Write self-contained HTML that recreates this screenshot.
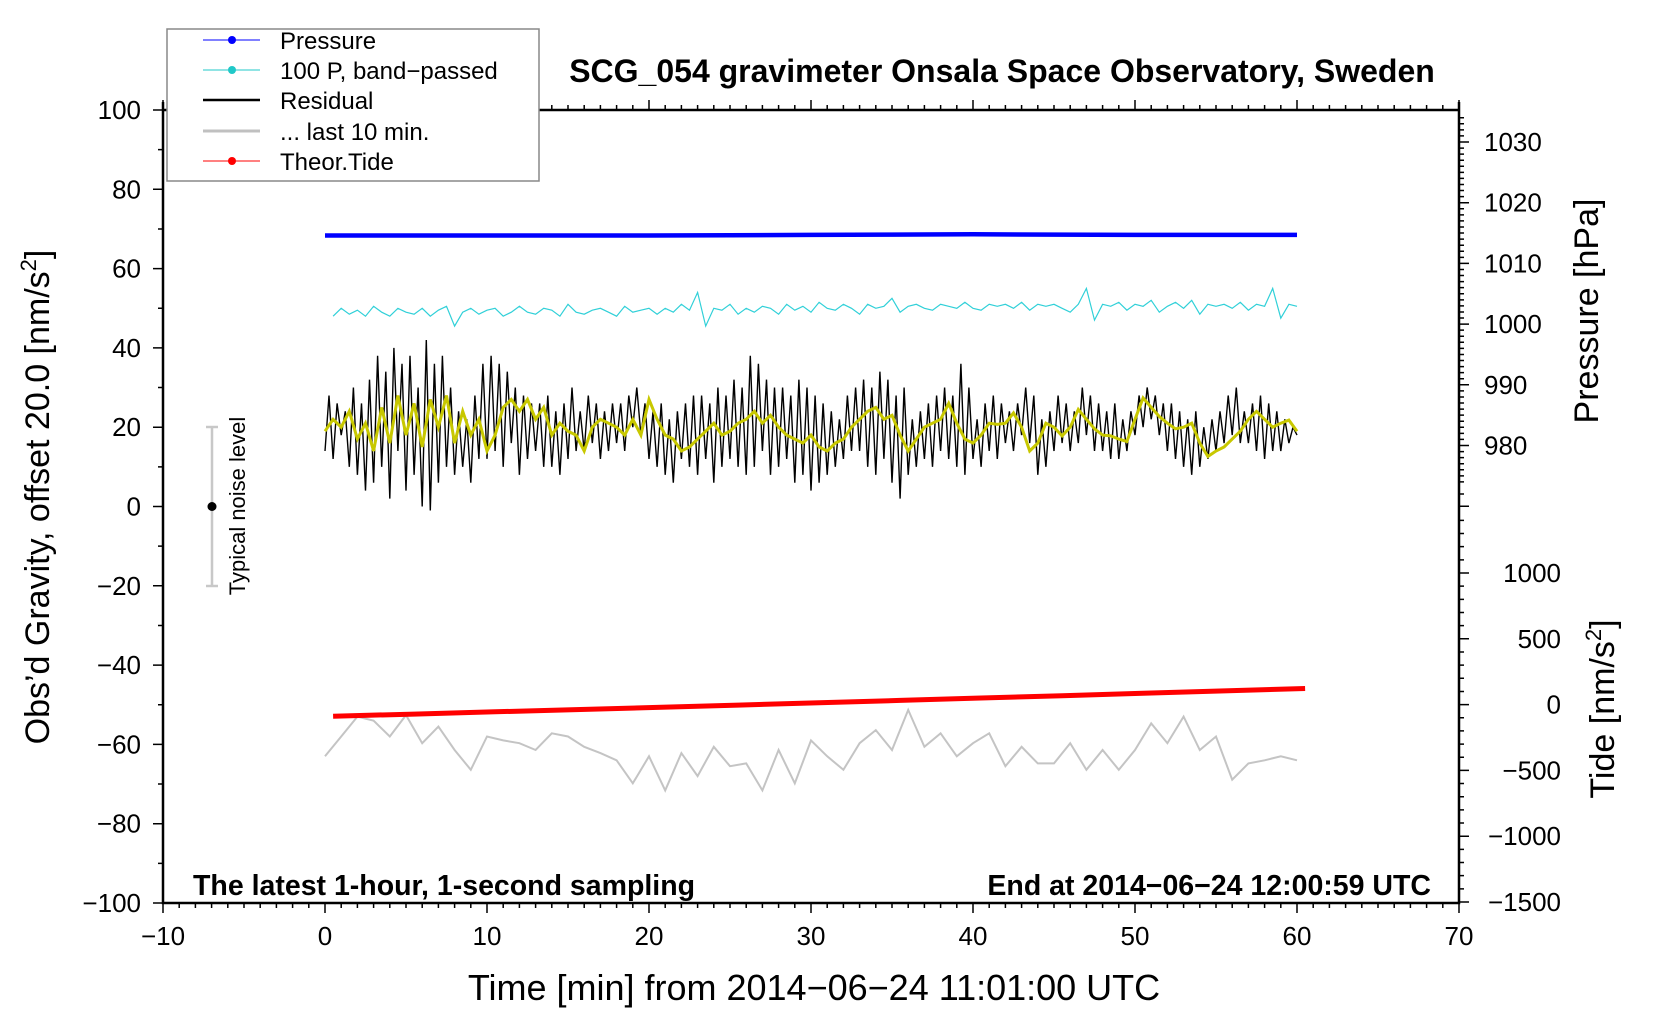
<!DOCTYPE html>
<html><head><meta charset="utf-8"><style>
html,body{margin:0;padding:0;background:#fff}
svg{display:block;font-family:"Liberation Sans",Arial,sans-serif}
</style></head><body>
<svg id="chart" width="1660" height="1020" viewBox="0 0 1660 1020" xmlns="http://www.w3.org/2000/svg">
<rect width="1660" height="1020" fill="#fff"/>
<g id="marks"></g>
<g id="axes"></g>
<text x="1002" y="82" text-anchor="middle" font-size="32" font-weight="bold">SCG_054 gravimeter Onsala Space Observatory, Sweden</text>
<text x="193" y="895" font-size="28.5" font-weight="bold">The latest 1-hour, 1-second sampling</text>
<text x="1431" y="895" text-anchor="end" font-size="28.5" font-weight="bold">End at 2014−06−24 12:00:59 UTC</text>
<text x="814" y="1000" text-anchor="middle" font-size="36">Time [min] from 2014−06−24 11:01:00 UTC</text>
<text transform="translate(49,497) rotate(-90)" text-anchor="middle" font-size="34">Obs’d Gravity, offset 20.0 [nm/s<tspan font-size="22" dy="-13">2</tspan><tspan dy="13">]</tspan></text>
<text transform="translate(1598,311) rotate(-90)" text-anchor="middle" font-size="34">Pressure [hPa]</text>
<text transform="translate(1614,709) rotate(-90)" text-anchor="middle" font-size="34">Tide [nm/s<tspan font-size="22" dy="-13">2</tspan><tspan dy="13">]</tspan></text>
<g>
<line x1="212" y1="427" x2="212" y2="586" stroke="#c8c8c8" stroke-width="2.5"/>
<line x1="206" y1="427" x2="218" y2="427" stroke="#c8c8c8" stroke-width="2.5"/>
<line x1="206" y1="586" x2="218" y2="586" stroke="#c8c8c8" stroke-width="2.5"/>
<circle cx="212" cy="506.5" r="4.5" fill="#000"/>
<text transform="translate(245,506) rotate(-90)" text-anchor="middle" font-size="22">Typical noise level</text>
</g>
<g>
<rect x="167" y="29" width="372" height="152" fill="#fff" stroke="#888" stroke-width="1.5"/>
<g><line x1="203" y1="40" x2="260" y2="40" stroke="#0000ff" stroke-width="1"/><circle cx="232" cy="40" r="4" fill="#0000ff"/><text x="280" y="49" font-size="24">Pressure</text></g>
<g><line x1="203" y1="70" x2="260" y2="70" stroke="#20c8c8" stroke-width="1"/><circle cx="232" cy="70" r="4" fill="#20c8c8"/><text x="280" y="79" font-size="24">100 P, band−passed</text></g>
<g><line x1="203" y1="100" x2="260" y2="100" stroke="#000" stroke-width="2.5"/><text x="280" y="109" font-size="24">Residual</text></g>
<g><line x1="203" y1="131" x2="260" y2="131" stroke="#c0c0c0" stroke-width="3"/><text x="280" y="140" font-size="24">... last 10 min.</text></g>
<g><line x1="203" y1="161" x2="260" y2="161" stroke="#ff0000" stroke-width="1"/><circle cx="232" cy="161" r="4" fill="#ff0000"/><text x="280" y="170" font-size="24">Theor.Tide</text></g>
</g>
</svg>
<script>
// ---- data ----
const xTicks = [-10,0,10,20,30,40,50,60,70];
const yTicks = [100,80,60,40,20,0,-20,-40,-60,-80,-100];
const pressureTicks = [1030,1020,1010,1000,990,980];
const tideTicks = [1000,500,0,-500,-1000,-1500];
// residual, 4 samples per minute, t = 0..60
const residual = [14,28,12,26,18,24,10,30,8,26,4,32,6,38,10,34,2,40,14,36,4,38,8,30,0,42,-1,36,6,38,10,30,8,24,10,22,6,28,12,36,12,38,14,36,10,34,16,30,8,28,12,26,14,26,10,28,10,24,8,26,12,30,14,24,14,28,16,26,12,24,14,26,16,26,14,28,20,30,18,26,12,24,10,26,8,22,6,24,12,26,10,28,8,28,12,26,6,30,10,28,12,32,10,30,8,38,10,36,14,32,8,30,10,30,12,28,6,32,8,30,4,28,6,26,8,24,10,22,12,28,14,30,14,32,10,30,8,34,12,32,6,28,2,30,8,22,10,24,12,26,10,28,14,30,12,28,10,36,8,30,12,22,10,26,14,28,12,26,16,24,14,26,18,30,16,28,8,22,10,24,14,28,16,26,14,24,16,30,18,28,14,26,14,24,12,26,12,22,14,24,18,28,20,30,22,28,18,26,14,26,12,24,10,22,8,24,10,20,12,22,14,24,16,28,18,30,16,24,16,26,14,28,12,26,14,24,14,22,16,20,18];
// smoothed residual, 2 samples per minute
const smoothed = [19,22,20,24,17,21,14,25,16,28,18,26,15,27,20,28,16,24,18,22,14,18,25,27,24,27,22,25,18,21,19,18,14,20,22,21,20,18,22,18,27,22,18,17,14,15,17,19,21,18,19,21,22,24,21,23,20,18,17,16,18,15,14,16,17,20,22,24,25,22,23,18,14,17,20,21,22,26,21,17,16,18,21,20.7,21,23.6,20,14,16,21,20,17.8,20,24.5,22,19.6,18,17.8,17,16.4,22,27.4,25,22.7,21,19.6,20,21,16,12.6,14,15,17,19,22,24,22,20,21,21.8,19];
// 100 P band-passed, 2 samples per minute, t = 0.5..60
const bandPassed = [48,50,48.5,49.5,48,50.5,49,48,50,49,48.5,50,48,49.5,50.5,45.5,49,50,48.5,49.5,50,48,49,50.5,49,48.5,50,49.5,48,51,49,48.5,49.5,50,49,48,50.5,49,49.5,50,48.5,50,49,51,49.5,54,45.5,50,49.5,51,48.5,50,49,50.5,50,48.5,51,49.5,50.5,49,51.5,50,49.5,51,50,48.5,51,50,50.5,52.5,49,50.5,51,50,49.5,51,50.5,50,51.5,50,49.5,51,50.5,51,50,51.5,49.5,51,50.5,51,50,49,51,55,47,51,50.5,51.5,49.5,51,50.5,52,49,50.5,51.5,50,52,48.5,51,50.5,51,50,51.5,49.5,51,50.5,55,47.5,51,50.5];
// last 10 min (gray), 1 sample per minute
const lastTen = [-63,-58,-53,-54,-58,-52.6,-59.7,-55.5,-61.4,-66.4,-58,-59,-59.7,-61.4,-57.2,-58,-60.6,-62.2,-64,-69.8,-63,-71.6,-62.2,-68,-60.6,-65.5,-64.8,-71.6,-61.4,-69.8,-59,-63,-66.4,-59.7,-56.4,-61.4,-51.3,-60.6,-57.2,-63,-59.7,-57.2,-65.5,-60.6,-64.8,-64.8,-59.7,-66.4,-61.4,-66.4,-61.4,-54.7,-59.7,-53,-61.4,-58,-68.9,-64.8,-64,-63,-64];
// pressure hPa, every 5 min
const pressure = [1014.6,1014.6,1014.6,1014.6,1014.6,1014.65,1014.7,1014.75,1014.8,1014.75,1014.7,1014.7,1014.7];
// theoretical tide nm/s², every 5 min, t = 0.5..60.5
const tide = [-88,-72,-55,-38,-21,-4,14,32,50,68,86,104,122];

// ---- axes functions ----
const X0=163,X1=1459,Y0=110,Y1=903;
const xs = t => X0 + (t+10)/80*(X1-X0);
const ys = v => Y1 - (v+100)/200*(Y1-Y0);
const ps = p => 142 + (1030-p)*6.07;
const ts = v => 573 + (1000-v)*(902-573)/2500;
const NS="http://www.w3.org/2000/svg";
const marks=document.getElementById('marks'), axes=document.getElementById('axes');
function mk(tag,attrs,parent){const e=document.createElementNS(NS,tag);for(const k in attrs)e.setAttribute(k,attrs[k]);parent.appendChild(e);return e;}
function poly(pts){return pts.map(p=>p[0].toFixed(1)+','+p[1].toFixed(1)).join(' ');}

// series
let el;
el=mk('polyline',{points:poly(lastTen.map((v,i)=>[xs(i),ys(v)])),fill:'none',stroke:'#c4c4c4','stroke-width':2},marks);


el=mk('polyline',{points:poly(tide.map((v,i)=>[xs(0.5+i*5),ts(v)])),fill:'none',stroke:'#ff0000','stroke-width':5},marks);


el=mk('polyline',{points:poly(bandPassed.map((v,i)=>[xs(0.5+i*0.5),ys(v)])),fill:'none',stroke:'#30d0d8','stroke-width':1.2},marks);


el=mk('polyline',{points:poly(pressure.map((v,i)=>[xs(i*5),ps(v)])),fill:'none',stroke:'#0000ff','stroke-width':4.5},marks);


el=mk('polyline',{points:poly(residual.map((v,i)=>[xs(i*0.25),ys(v)])),fill:'none',stroke:'#000','stroke-width':1.4},marks);


el=mk('polyline',{points:poly(smoothed.map((v,i)=>[xs(i*0.5),ys(v)])),fill:'none',stroke:'#c8c800','stroke-width':3},marks);



// frame
el=mk('path',{d:`M${X0},${Y0-8}V${Y1}H${X1}V${Y0-8}M${X0},${Y0}H${X1}`,fill:'none',stroke:'#000','stroke-width':2.5},axes);


let d='';
for(let t=-10;t<=70;t++){const L=(t%10===0)?10:5;d+=`M${xs(t)},${Y1}v${L}M${xs(t)},${Y0}v${-L}`;}
for(let v=-100;v<=100;v+=10){const L=(v%20===0)?10:5;d+=`M${X0},${ys(v)}h${-L}`;}
for(let p=1034;p>=970;p--){const L=(p%10===0)?10:5;if(p<975&&p%2)continue;d+=`M${X1},${ps(p)}h${L}`;}
for(let v=-1500;v<=1400;v+=100){const L=(v%500===0)?10:5;d+=`M${X1},${ts(v)}h${L}`;}
el=mk('path',{d:d,stroke:'#000','stroke-width':1.5,fill:'none'},axes);


xTicks.forEach(t=>{const e=mk('text',{x:xs(t),y:945,'text-anchor':'middle','font-size':26},axes);e.textContent=String(t).replace('-','−');

});
yTicks.forEach(v=>{const e=mk('text',{x:141,y:ys(v)+9,'text-anchor':'end','font-size':26},axes);e.textContent=String(v).replace('-','−');

});
pressureTicks.forEach(p=>{const e=mk('text',{x:1484,y:ps(p)+9,'font-size':26},axes);e.textContent=p;

});
tideTicks.forEach(v=>{const e=mk('text',{x:1561,y:ts(v)+9,'text-anchor':'end','font-size':26},axes);e.textContent=String(v).replace('-','−');

});
</script>
</body></html>
